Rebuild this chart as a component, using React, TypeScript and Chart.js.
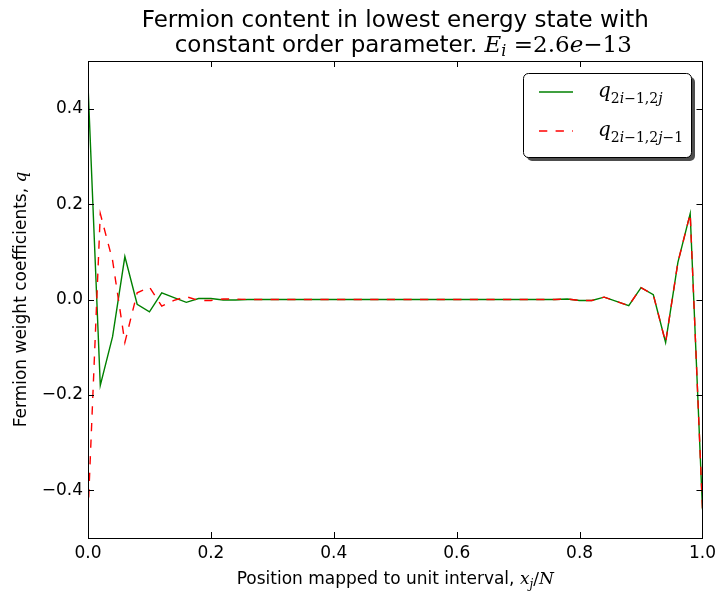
import React, { useEffect, useRef } from 'react';
import { Chart, registerables } from 'chart.js';

Chart.register(...registerables);

// x positions (x_j / N)
const xPositions = [
  0.0, 0.02, 0.04, 0.06, 0.08, 0.1, 0.12, 0.14, 0.16, 0.18,
  0.2, 0.22, 0.24, 0.26, 0.28, 0.3, 0.32, 0.34, 0.36, 0.38,
  0.4, 0.42, 0.44, 0.46, 0.48, 0.5, 0.52, 0.54, 0.56, 0.58,
  0.6, 0.62, 0.64, 0.66, 0.68, 0.7, 0.72, 0.74, 0.76, 0.78,
  0.8, 0.82, 0.84, 0.86, 0.88, 0.9, 0.92, 0.94, 0.96, 0.98,
  1.0,
];

// q_{2i-1,2j}
const qEven = [
  0.45, -0.18, -0.078, 0.09, -0.01, -0.026, 0.014, 0.004, -0.006, 0.002,
  0.002, -0.001, -0.001, 0.0, 0.0, 0.0, 0.0, 0.0, 0.0, 0.0,
  0.0, 0.0, 0.0, 0.0, 0.0, 0.0, 0.0, 0.0, 0.0, 0.0,
  0.0, 0.0, 0.0, 0.0, 0.0, 0.0, 0.0, 0.0, 0.0, 0.001,
  -0.002, -0.002, 0.005, -0.004, -0.013, 0.025, 0.01, -0.09, 0.078, 0.18,
  -0.44,
];

// q_{2i-1,2j-1}
const qOdd = [
  -0.45, 0.18, 0.082, -0.09, 0.014, 0.026, -0.014, -0.002, 0.006, -0.002,
  -0.002, 0.001, 0.001, 0.0, 0.0, 0.0, 0.0, 0.0, 0.0, 0.0,
  0.0, 0.0, 0.0, 0.0, 0.0, 0.0, 0.0, 0.0, 0.0, 0.0,
  0.0, 0.0, 0.0, 0.0, 0.0, 0.0, 0.0, 0.0, 0.0, 0.001,
  -0.002, -0.002, 0.005, -0.004, -0.013, 0.025, 0.01, -0.09, 0.078, 0.18,
  -0.44,
];

const xTicks = [0.0, 0.2, 0.4, 0.6, 0.8, 1.0];
const yTicks = [-0.4, -0.2, 0.0, 0.2, 0.4];

const SANS = '"DejaVu Sans", sans-serif';
const SERIF = '"DejaVu Serif", serif';

type Run = { t: string; f: string; dy?: number };

function drawRuns(ctx: CanvasRenderingContext2D, runs: Run[], x: number, y: number, align: 'left' | 'center') {
  ctx.save();
  ctx.textBaseline = 'alphabetic';
  ctx.textAlign = 'left';
  let total = 0;
  const widths = runs.map((r) => {
    ctx.font = r.f;
    const w = ctx.measureText(r.t).width;
    total += w;
    return w;
  });
  let cx = align === 'center' ? x - total / 2 : x;
  runs.forEach((r, i) => {
    ctx.font = r.f;
    ctx.fillText(r.t, cx, y + (r.dy || 0));
    cx += widths[i];
  });
  ctx.restore();
}

function fmt(v: number) {
  const s = Math.abs(v).toFixed(1);
  return v < -1e-9 ? '\u2212' + s : s;
}

const decorPlugin = {
  id: 'decor',
  afterDraw(chart: any) {
    const ctx: CanvasRenderingContext2D = chart.ctx;
    const { left, right, top, bottom } = chart.chartArea;
    const xs = chart.scales.x;
    const ys = chart.scales.y;
    ctx.save();
    // frame
    ctx.strokeStyle = '#000';
    ctx.lineWidth = 1;
    ctx.strokeRect(Math.round(left) + 0.5, Math.round(top) + 0.5, Math.round(right - left), Math.round(bottom - top));
    // inward ticks
    const tl = 6;
    ctx.beginPath();
    xTicks.forEach((v) => {
      const px = Math.round(xs.getPixelForValue(v)) + 0.5;
      ctx.moveTo(px, bottom);
      ctx.lineTo(px, bottom - tl);
      ctx.moveTo(px, top);
      ctx.lineTo(px, top + tl);
    });
    yTicks.forEach((v) => {
      const py = Math.round(ys.getPixelForValue(v)) + 0.5;
      ctx.moveTo(left, py);
      ctx.lineTo(left + tl, py);
      ctx.moveTo(right, py);
      ctx.lineTo(right - tl, py);
    });
    ctx.stroke();

    ctx.fillStyle = '#000';
    const cx = (left + right) / 2;
    // title
    drawRuns(ctx, [{ t: 'Fermion content in lowest energy state with', f: `23px ${SANS}` }], cx, 27, 'center');
    drawRuns(
      ctx,
      [
        { t: 'constant order parameter. ', f: `23px ${SANS}` },
        { t: 'E', f: `italic 23px ${SERIF}` },
        { t: 'i', f: `italic 16px ${SERIF}`, dy: 4 },
        { t: ' =2.6', f: `23px ${SERIF}` },
        { t: 'e', f: `italic 23px ${SERIF}` },
        { t: '\u221213', f: `23px ${SERIF}` },
      ],
      cx + 8,
      52,
      'center'
    );
    // x label
    drawRuns(
      ctx,
      [
        { t: 'Position mapped to unit interval, ', f: `17px ${SANS}` },
        { t: 'x', f: `italic 17px ${SERIF}` },
        { t: 'j', f: `italic 12px ${SERIF}`, dy: 4 },
        { t: '/', f: `17px ${SERIF}` },
        { t: 'N', f: `italic 17px ${SERIF}` },
      ],
      cx,
      584,
      'center'
    );
    // y label
    ctx.save();
    ctx.translate(26, (top + bottom) / 2);
    ctx.rotate(-Math.PI / 2);
    drawRuns(
      ctx,
      [
        { t: 'Fermion weight coefficients, ', f: `17px ${SANS}` },
        { t: 'q', f: `italic 17px ${SERIF}` },
      ],
      0,
      0,
      'center'
    );
    ctx.restore();

    // legend
    const lx = 523, ly = 73, lw = 168, lh = 84, r = 5;
    const rr = (x: number, y: number, w: number, h: number) => {
      ctx.beginPath();
      ctx.moveTo(x + r, y);
      ctx.lineTo(x + w - r, y);
      ctx.arcTo(x + w, y, x + w, y + r, r);
      ctx.lineTo(x + w, y + h - r);
      ctx.arcTo(x + w, y + h, x + w - r, y + h, r);
      ctx.lineTo(x + r, y + h);
      ctx.arcTo(x, y + h, x, y + h - r, r);
      ctx.lineTo(x, y + r);
      ctx.arcTo(x, y, x + r, y, r);
      ctx.closePath();
    };
    rr(lx + 4, ly + 4, lw, lh);
    ctx.fillStyle = '#4d4d4d';
    ctx.fill();
    rr(lx + 0.5, ly + 0.5, lw, lh);
    ctx.fillStyle = '#fff';
    ctx.fill();
    ctx.strokeStyle = '#000';
    ctx.lineWidth = 1;
    ctx.stroke();

    ctx.lineWidth = 1.4;
    ctx.strokeStyle = '#008000';
    ctx.beginPath();
    ctx.moveTo(539, 92);
    ctx.lineTo(573, 92);
    ctx.stroke();
    ctx.strokeStyle = '#ff0000';
    ctx.setLineDash([8.3, 8.3]);
    ctx.beginPath();
    ctx.moveTo(539, 131);
    ctx.lineTo(573, 131);
    ctx.stroke();
    ctx.setLineDash([]);

    ctx.fillStyle = '#000';
    const sub = `14px ${SERIF}`;
    const subI = `italic 14px ${SERIF}`;
    drawRuns(
      ctx,
      [
        { t: 'q', f: `italic 20px ${SERIF}` },
        { t: '2', f: sub, dy: 6 },
        { t: 'i', f: subI, dy: 6 },
        { t: '\u22121,2', f: sub, dy: 6 },
        { t: 'j', f: subI, dy: 6 },
      ],
      598,
      97,
      'left'
    );
    drawRuns(
      ctx,
      [
        { t: 'q', f: `italic 20px ${SERIF}` },
        { t: '2', f: sub, dy: 6 },
        { t: 'i', f: subI, dy: 6 },
        { t: '\u22121,2', f: sub, dy: 6 },
        { t: 'j', f: subI, dy: 6 },
        { t: '\u22121', f: sub, dy: 6 },
      ],
      598,
      136,
      'left'
    );
    ctx.restore();
  },
};

export default function App() {
  const ref = useRef<HTMLCanvasElement | null>(null);
  useEffect(() => {
    document.body.style.margin = '0';
    const canvas = ref.current!;
    const chart = new Chart(canvas, {
      type: 'line',
      data: {
        datasets: [
          {
            label: 'q_{2i-1,2j}',
            data: xPositions.map((x, i) => ({ x, y: qEven[i] })),
            borderColor: '#008000',
            borderWidth: 1.4,
            pointRadius: 0,
            tension: 0,
            fill: false,
            order: 1,
          },
          {
            label: 'q_{2i-1,2j-1}',
            data: xPositions.map((x, i) => ({ x, y: qOdd[i] })),
            borderColor: '#ff0000',
            borderWidth: 1.4,
            borderDash: [8.3, 8.3],
            pointRadius: 0,
            tension: 0,
            fill: false,
            order: 0,
          },
        ],
      },
      options: {
        responsive: false,
        animation: false,
        devicePixelRatio: 1,
        layout: { padding: { left: 0, right: 16, top: 61, bottom: 0 } },
        plugins: { legend: { display: false }, title: { display: false }, tooltip: { enabled: false } },
        scales: {
          x: {
            type: 'linear',
            min: 0,
            max: 1,
            afterFit: (s: any) => {
              s.height = 54;
            },
            afterBuildTicks: (s: any) => {
              s.ticks = xTicks.map((v) => ({ value: v }));
            },
            grid: { display: false, drawTicks: false },
            border: { display: false },
            ticks: {
              padding: 5,
              color: '#000',
              font: { family: 'DejaVu Sans', size: 17 },
              maxRotation: 0,
              callback: (v: any) => fmt(Number(v)),
            },
          },
          y: {
            type: 'linear',
            min: -0.5,
            max: 0.5,
            afterFit: (s: any) => {
              s.width = 88;
            },
            afterBuildTicks: (s: any) => {
              s.ticks = yTicks.map((v) => ({ value: v }));
            },
            grid: { display: false, drawTicks: false },
            border: { display: false },
            ticks: {
              padding: 5,
              color: '#000',
              font: { family: 'DejaVu Sans', size: 17 },
              callback: (v: any) => fmt(Number(v)),
            },
          },
        },
      },
      plugins: [decorPlugin],
    });
    return () => chart.destroy();
  }, []);
  return <canvas ref={ref} width={721} height={592} style={{ display: 'block' }} />;
}
